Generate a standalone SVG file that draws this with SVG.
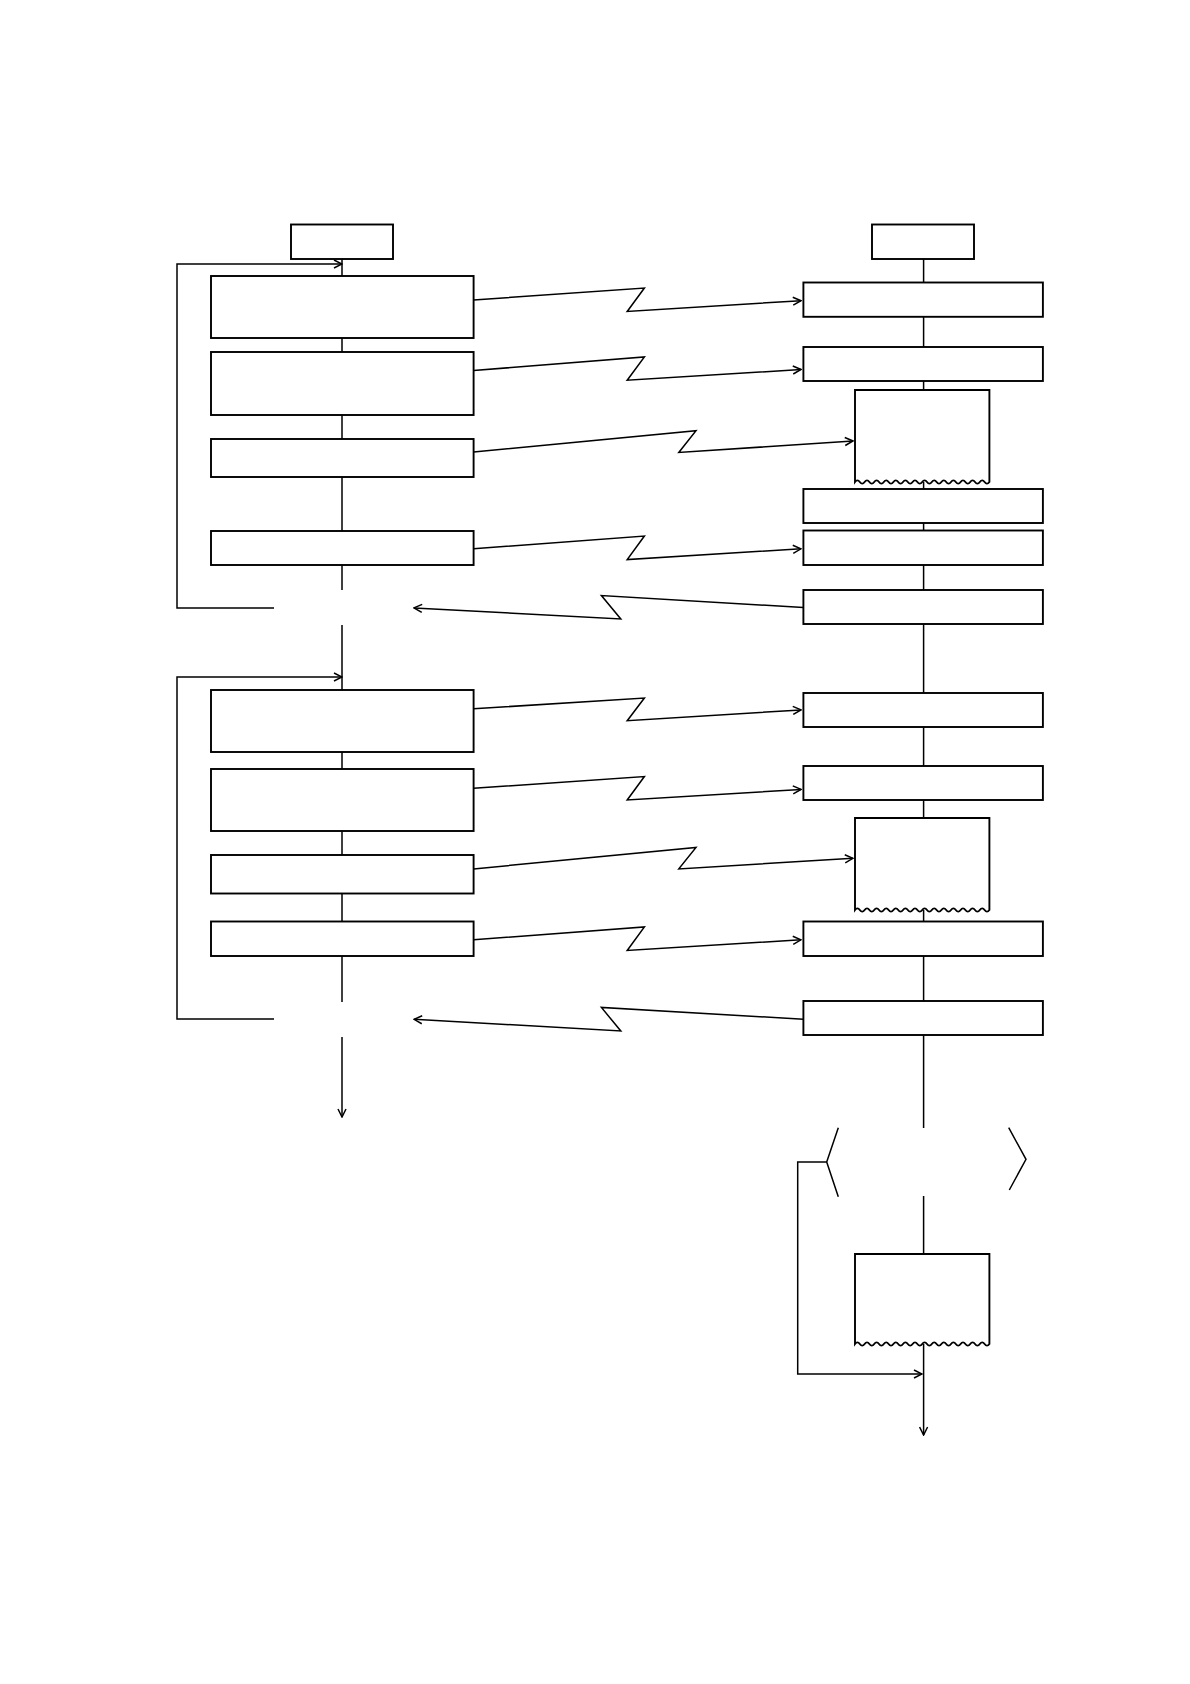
<svg xmlns="http://www.w3.org/2000/svg" width="1190" height="1684" viewBox="0 0 1190 1684">
<style>
.box{fill:#fff;stroke:#000;stroke-width:1.9}
.ln{fill:none;stroke:#000;stroke-width:1.5}
.ar{fill:none;stroke:#000;stroke-width:1.5;marker-end:url(#arr)}
</style>
<defs>
<marker id="arr" viewBox="0 0 10 10" refX="9" refY="5" markerWidth="10" markerHeight="10" markerUnits="userSpaceOnUse" orient="auto">
<path d="M1,1 L9,5 L1,9" fill="none" stroke="#000" stroke-width="1.5"/>
</marker>
</defs>
<rect width="1190" height="1684" fill="#fff"/>
<g id="connectors">
<path class="ln" d="M342,259 V276 M342,338 V352 M342,415 V439 M342,477 V531 M342,565 V590 M342,625 V690 M342,752 V769 M342,831 V855 M342,893 V921 M342,956 V1002"/>
<path class="ar" d="M342,1037 V1117"/>
<path class="ar" d="M274,608 H177 V264 H342"/>
<path class="ar" d="M274,1019 H177 V677 H342"/>
<path class="ln" d="M923.6,259 V282.5 M923.6,317 V347 M923.6,381 V390 M923.6,482 V489 M923.6,523 V530.5 M923.6,565 V590 M923.6,624 V693 M923.6,727 V766 M923.6,800 V818 M923.6,910 V921.5 M923.6,956 V1001 M923.6,1035 V1128 M923.6,1196 V1254"/>
<path class="ar" d="M923.6,1344 V1435"/>
<path class="ar" d="M826.7,1162 H797.7 V1374 H922"/>
<path class="ar" d="M473.6,300 L644.4,288 L627.2,311.5 L801,300.7"/>
<path class="ar" d="M473.6,370.5 L644.4,357 L627.2,380.2 L801,369.5"/>
<path class="ar" d="M473.6,452 L696,430.7 L678.8,452.5 L853,441"/>
<path class="ar" d="M473.6,548.8 L644.4,536 L627.2,559.6 L801,548.8"/>
<path class="ar" d="M803.4,607.5 L601.4,595.5 L620.8,619 L414,607.9"/>
<path class="ar" d="M473.6,708.8 L644.4,698 L627.2,720.7 L801,709.9"/>
<path class="ar" d="M473.6,788.3 L644.4,776.5 L627.2,800 L801,789.4"/>
<path class="ar" d="M473.6,868.9 L696,847.4 L678.8,868.9 L853,858.3"/>
<path class="ar" d="M473.6,939.8 L644.4,926.9 L627.2,950.5 L801,939.8"/>
<path class="ar" d="M803.4,1019.3 L601.4,1007.4 L620.8,1031 L414,1019.3"/>
</g>
<g id="L0"><rect class="box" x="291" y="224.5" width="102" height="34.5"/></g>
<g id="L1"><rect class="box" x="211" y="276" width="262.6" height="62"/></g>
<g id="L2"><rect class="box" x="211" y="352" width="262.6" height="63"/></g>
<g id="L3"><rect class="box" x="211" y="439" width="262.6" height="38"/></g>
<g id="L4"><rect class="box" x="211" y="531" width="262.6" height="34"/></g>
<g id="L5"><rect class="box" x="211" y="690" width="262.6" height="62"/></g>
<g id="L6"><rect class="box" x="211" y="769" width="262.6" height="62"/></g>
<g id="L7"><rect class="box" x="211" y="855" width="262.6" height="38.5"/></g>
<g id="L8"><rect class="box" x="211" y="921.5" width="262.6" height="34.5"/></g>
<g id="R0"><rect class="box" x="872" y="224.5" width="102" height="34.5"/></g>
<g id="R1"><rect class="box" x="803.4" y="282.5" width="239.5" height="34.3"/></g>
<g id="R2"><rect class="box" x="803.4" y="347" width="239.5" height="34"/></g>
<g id="R3"><path class="box" d="M855,390 V482 q2.4,-3.2 4.8,0 t4.8,0 t4.8,0 t4.8,0 t4.8,0 t4.8,0 t4.8,0 t4.8,0 t4.8,0 t4.8,0 t4.8,0 t4.8,0 t4.8,0 t4.8,0 t4.8,0 t4.8,0 t4.8,0 t4.8,0 t4.8,0 t4.8,0 t4.8,0 t4.8,0 t4.8,0 t4.8,0 t4.8,0 t4.8,0 t4.8,0 t4.8,0 V390 Z"/></g>
<g id="R4"><rect class="box" x="803.4" y="489" width="239.5" height="34"/></g>
<g id="R5"><rect class="box" x="803.4" y="530.5" width="239.5" height="34.5"/></g>
<g id="R6"><rect class="box" x="803.4" y="590" width="239.5" height="34"/></g>
<g id="R7"><rect class="box" x="803.4" y="693" width="239.5" height="34"/></g>
<g id="R8"><rect class="box" x="803.4" y="766" width="239.5" height="34"/></g>
<g id="R9"><path class="box" d="M855,818 V910 q2.4,-3.2 4.8,0 t4.8,0 t4.8,0 t4.8,0 t4.8,0 t4.8,0 t4.8,0 t4.8,0 t4.8,0 t4.8,0 t4.8,0 t4.8,0 t4.8,0 t4.8,0 t4.8,0 t4.8,0 t4.8,0 t4.8,0 t4.8,0 t4.8,0 t4.8,0 t4.8,0 t4.8,0 t4.8,0 t4.8,0 t4.8,0 t4.8,0 t4.8,0 V818 Z"/></g>
<g id="R10"><rect class="box" x="803.4" y="921.5" width="239.5" height="34.5"/></g>
<g id="R11"><rect class="box" x="803.4" y="1001" width="239.5" height="34"/></g>
<g id="R12"><path class="ln" d="M838.3,1127.7 L826.7,1162 L838.3,1196.7 M1008.7,1127.7 L1026,1159.3 L1009.3,1190"/></g>
<g id="R13"><path class="box" d="M855,1254 V1344 q2.4,-3.2 4.8,0 t4.8,0 t4.8,0 t4.8,0 t4.8,0 t4.8,0 t4.8,0 t4.8,0 t4.8,0 t4.8,0 t4.8,0 t4.8,0 t4.8,0 t4.8,0 t4.8,0 t4.8,0 t4.8,0 t4.8,0 t4.8,0 t4.8,0 t4.8,0 t4.8,0 t4.8,0 t4.8,0 t4.8,0 t4.8,0 t4.8,0 t4.8,0 V1254 Z"/></g>
</svg>
